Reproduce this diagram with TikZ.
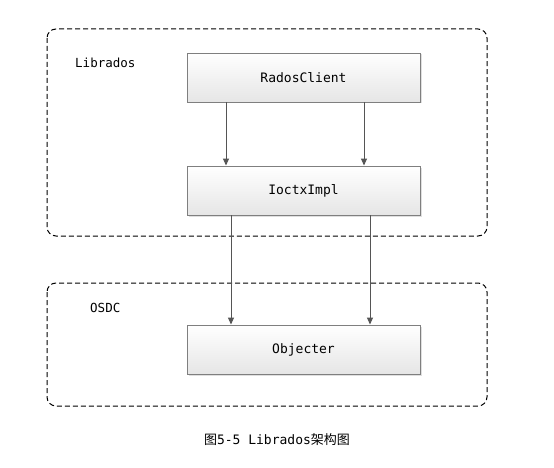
\documentclass[tikz,border=0pt]{standalone}
\usepackage{fontspec}
\setmonofont{DejaVu Sans Mono}
\newfontfamily\cjk{Noto Sans CJK SC}
\usetikzlibrary{arrows.meta,shadows}
\definecolor{linec}{HTML}{555555}
\definecolor{boxborder}{HTML}{7F7F7F}
\tikzset{
  groupbox/.style={draw=black, dashed, dash pattern=on 5pt off 3pt, rounded corners=9pt, line width=1pt},
  compbox/.style={draw=boxborder, line width=0.9pt, top color=white, bottom color=black!10, minimum width=233pt, minimum height=49pt, inner sep=0pt, font=\ttfamily\fontsize{13}{15}\selectfont, drop shadow={shadow xshift=1.5pt, shadow yshift=-1.5pt, opacity=0.25}},
  lbl/.style={font=\ttfamily\fontsize{12.5}{14}\selectfont, anchor=west, inner sep=0pt},
  conn/.style={draw=linec, line width=1pt, -{Triangle[length=7pt,width=6pt]}}
}
\begin{document}
\begin{tikzpicture}[x=1pt,y=-1pt]
\useasboundingbox (0,0) rectangle (554,468);
\fill[white] (0,0) rectangle (554,468);
\draw[groupbox] (47,29) rectangle (487,236);
\draw[groupbox] (47,283) rectangle (487,406);
\node[lbl] (lib) at (75,63) {Librados};
\node[lbl] (osdc) at (90,308) {OSDC};
\node[compbox] (rc) at (303.5,77.5) {RadosClient};
\node[compbox] (io) at (303.5,190.5) {IoctxImpl};
\node[compbox] (ob) at (303.5,349.5) {Objecter};
\coordinate (a1) at (226,0);
\coordinate (a2) at (364,0);
\coordinate (b1) at (231,0);
\coordinate (b2) at (370,0);
\draw[conn] (rc.south -| a1) -- (io.north -| a1);
\draw[conn] (rc.south -| a2) -- (io.north -| a2);
\draw[conn] (io.south -| b1) -- (ob.north -| b1);
\draw[conn] (io.south -| b2) -- (ob.north -| b2);
\node[font=\fontsize{13}{15}\selectfont, inner sep=0pt] (cap) at (277,440) {{\cjk 图}\texttt{5-5 Librados}{\cjk 架构图}};
\end{tikzpicture}
\end{document}
